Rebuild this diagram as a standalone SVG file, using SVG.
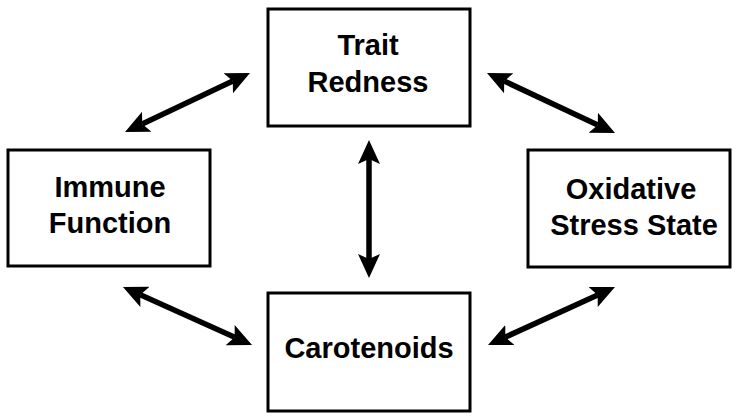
<svg xmlns="http://www.w3.org/2000/svg" width="738" height="420" viewBox="0 0 738 420">
<style>
.box{fill:#fff;stroke:#000;stroke-width:3}
.lbl{font-family:"Liberation Sans",Arial,sans-serif;font-weight:bold;font-size:29px;fill:#000;text-anchor:middle}
.conn{stroke:#000;stroke-width:5.5;fill:none;marker-start:url(#ah);marker-end:url(#ah)}
</style>
<defs>
<marker id="ah" markerUnits="userSpaceOnUse" markerWidth="26" markerHeight="24" refX="5" refY="11" orient="auto-start-reverse" viewBox="0 0 26 22">
<path d="M0,0 L24,11 L0,22 L5,11 z" fill="#000"/>
</marker>
</defs>
<rect width="738" height="420" fill="#fff"/>
<g id="connectors">
<line class="conn" x1="142.2" y1="123.9" x2="232.8" y2="81.1"/>
<line class="conn" x1="504.2" y1="81.1" x2="597.8" y2="124.9"/>
<line class="conn" x1="140.3" y1="294.8" x2="234.7" y2="337.2"/>
<line class="conn" x1="505.3" y1="337.1" x2="597.7" y2="294.9"/>
<line class="conn" x1="369" y1="159" x2="369" y2="259"/>
</g>
<g id="trait-redness">
<rect class="box" x="268" y="9" width="202" height="117"/>
<text class="lbl" x="368" y="55">Trait</text>
<text class="lbl" x="368" y="92">Redness</text>
</g>
<g id="immune-function">
<rect class="box" x="8" y="150" width="202" height="116"/>
<text class="lbl" x="110" y="197">Immune</text>
<text class="lbl" x="110" y="233">Function</text>
</g>
<g id="oxidative-stress">
<rect class="box" x="528" y="150" width="202" height="117"/>
<text class="lbl" x="631" y="199">Oxidative</text>
<text class="lbl" x="634" y="235">Stress State</text>
</g>
<g id="carotenoids">
<rect class="box" x="268" y="293" width="202" height="118"/>
<text class="lbl" x="369" y="358">Carotenoids</text>
</g>
</svg>
